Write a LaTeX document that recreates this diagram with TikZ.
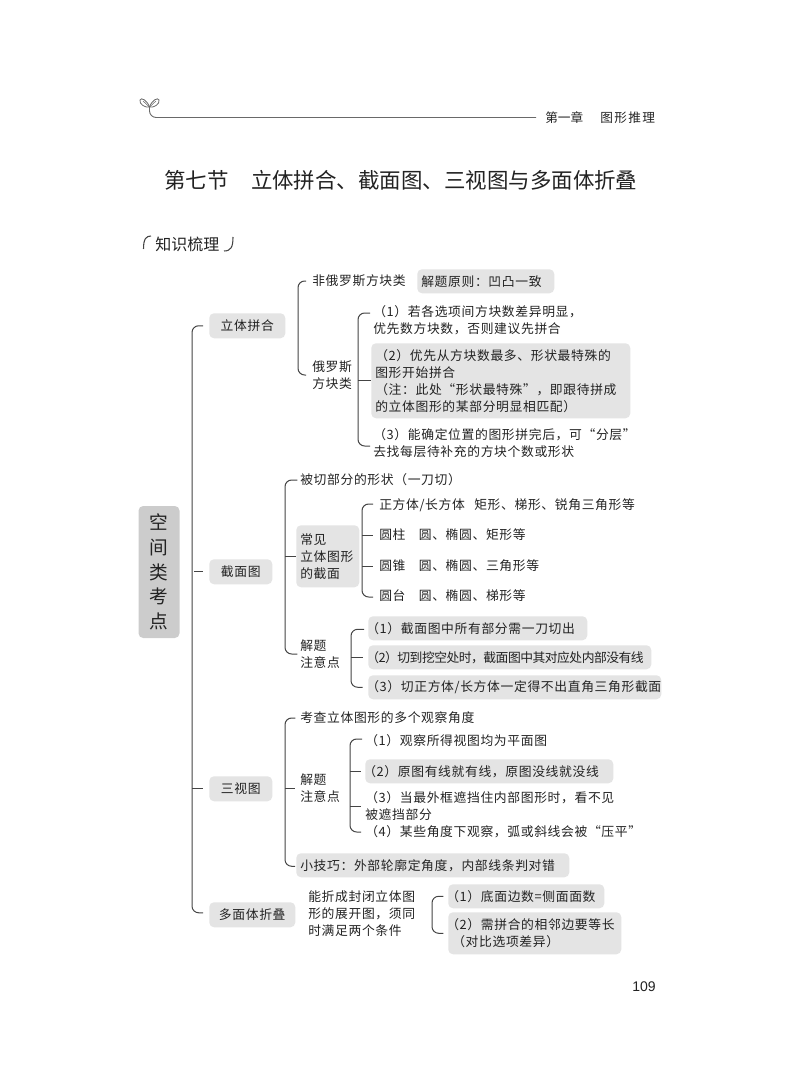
\documentclass[tikz,border=0pt]{standalone}
\usepackage{fontspec}
\setmainfont{Liberation Sans}
\newfontfamily\cjk{Noto Sans CJK SC}
\newfontfamily\hand[LetterSpace=5]{Noto Sans CJK SC}
\newfontfamily\handt[LetterSpace=-4]{Noto Sans CJK SC}
\newfontfamily\hdr[LetterSpace=0]{Noto Sans CJK SC}
\newfontfamily\hdrb[LetterSpace=11]{Noto Sans CJK SC}
\definecolor{boxgray}{HTML}{E4E4E4}
\definecolor{rootgray}{HTML}{CCCCCC}
\definecolor{ink}{HTML}{222222}
\definecolor{wire}{HTML}{444444}
\newcommand{\kk}{\hspace*{-4.5pt}}
\newcommand{\brk}[3]{\coordinate (brS) at (#2);\coordinate (brE) at (#3);\draw[conn] (brS) -- (brS -| #1) -- (brE -| #1) -- (brE);}
\tikzset{
  x=0.75pt,y=-0.75pt,
  txt/.style={anchor=west,inner sep=0pt,align=left,text=ink,font=\hand\fontsize{9.6}{12.75}\selectfont},
  gbox/.style 2 args={txt,anchor=north west,fill=boxgray,rounded corners=3.5pt,inner xsep=3pt,inner ysep=0pt,
     text width={#1*0.75pt-6pt},minimum height={#2*0.75pt}},
  catbox/.style={gbox={#1}{25},font=\hand\fontsize{9.6}{12.75}\selectfont,align=center},
  conn/.style={draw=wire,line width=0.75pt,rounded corners=5pt},
  tick/.style={draw=wire,line width=0.75pt},
}
\begin{document}
\begin{tikzpicture}
\useasboundingbox (0,0) rectangle (800,1084);
% header
\draw[draw=wire!80,line width=0.7pt,rounded corners=5pt] (149.5,106) -- (149.5,117.5) -- (536,117.5);
\draw[draw=wire!80,line width=0.6pt] (149.5,107) .. controls (147,100) and (141,97) .. (140,100) .. controls (139,104) and (145,108) .. (149.5,107) -- cycle;
\draw[draw=wire!80,line width=0.6pt] (149.5,107) .. controls (152,100) and (158,97) .. (159,100) .. controls (160,104) and (154,108) .. (149.5,107) -- cycle;
\draw[draw=wire!80,line width=0.4pt] (149.5,107) -- (143,101) (149.5,107) -- (156,101);
\node[anchor=west,inner sep=0pt,text=ink,font=\hdr\fontsize{9.5}{12}\selectfont] (chap) at (545,118) {第一章};
\node[anchor=west,inner sep=0pt,text=ink,font=\hdrb\fontsize{9.5}{12}\selectfont] (chapb) at (600,118) {图形推理};
\node[anchor=west,inner sep=0pt,text=ink,font=\cjk\fontsize{16.1}{20}\selectfont] (title) at (164,180) {第七节\hspace{16.8pt}立体拼合、截面图、三视图与多面体折叠};
\node[anchor=west,inner sep=0pt,text=ink,font=\cjk\fontsize{12}{16}\selectfont] (zs) at (155,244) {知识梳理};
\draw[draw=wire,line width=0.8pt] (151,236) .. controls (146,236) and (143.5,239) .. (143.5,249);
\draw[draw=wire,line width=0.8pt] (233,237) .. controls (233,247) and (231,251) .. (224,251);
% root
\node[gbox={41}{132},anchor=center,fill=rootgray,align=center,font=\hand\fontsize{14}{18.5}\selectfont] (root) at (159,572) {空\\间\\类\\考\\点};
% categories
\node[catbox=76] (lt) at (209,313) {立体拼合};
\node[catbox=63] (jm) at (209,559) {截面图};
\node[catbox=63] (sv) at (209,776) {三视图};
\node[catbox=86] (dm) at (209,902) {多面体折叠};
\coordinate (tr0) at (192,0);
\brk{tr0}{[xshift=-4.5pt]lt.west}{[shift={(-6,-2)}]dm.west}
\draw[tick] (tr0 |- jm.west) ++(2,0) -- ([xshift=-4.5pt]jm.west);
\draw[tick] (tr0 |- sv.west) -- ([xshift=-4.5pt]sv.west);
% lt branch
\node[txt] (a1) at (312,281) {非俄罗斯方块类};
\node[gbox={137}{24}] (a1b) at (417,269) {解题原则：凹凸一致};
\node[txt] (a2) at (312,375) {俄罗斯\\方块类};
\coordinate (tr1) at (298,0);
\brk{tr1}{[xshift=-4.5pt]a1.west}{[xshift=-4.5pt]a2.west}
\node[txt] (b1) at (373,320) {（1）若各选项间方块数差异明显，\\优先数方块数，否则建议先拼合};
\node[gbox={259}{75}] (b2) at (371,343) {（2）优先从方块数最多、形状最特殊的\\图形开始拼合\\（注：此处“形状最特殊”，即跟待拼成\\的立体图形的某部分明显相匹配）};
\node[txt] (b3) at (373,443) {（3）能确定位置的图形拼完后，可“分层”\\去找每层待补充的方块个数或形状};
\coordinate (tr2) at (358,0);
\brk{tr2}{[shift={(-3,-7)}]b1.west}{[shift={(-3,3)}]b3.west}
\draw[tick] (tr2 |- b2.west) -- (b2.west);
% jm branch
\node[txt] (c1) at (300,480) {被切部分的形状（一刀切）};
\node[gbox={63}{62}] (c2) at (296,525) {常见\\立体图形\\的截面};
\node[txt] (c3) at (300,654) {解题\\注意点};
\coordinate (tr3) at (285,0);
\brk{tr3}{[xshift=-2pt]c1.west}{[xshift=-2pt]c3.west}
\draw[tick] (tr3 |- c2.west) -- (c2.west);
\node[txt] (d1) at (379,505) {正方体/长方体\hspace{7pt}矩形、梯形、锐角三角形等};
\node[txt] (d2) at (379,535) {圆柱\hspace{10pt}圆、椭圆、矩形等};
\node[txt] (d3) at (379,566) {圆锥\hspace{10pt}圆、椭圆、三角形等};
\node[txt] (d4) at (379,596) {圆台\hspace{10pt}圆、椭圆、梯形等};
\coordinate (tr4) at (362,0);
\brk{tr4}{[shift={(-6,-1)}]d1.west}{[shift={(-6,1)}]d4.west}
\draw[tick] (tr4 |- d2.west) -- ([xshift=-4.5pt]d2.west);
\draw[tick] (tr4 |- d3.west) -- ([xshift=-4.5pt]d3.west);
\node[gbox={219}{24}] (e1) at (368,616) {\kk（1）截面图中所有部分需一刀切出};
\node[gbox={283}{24},font=\handt\fontsize{9.6}{12.75}\selectfont] (e2) at (368,645) {\kk（2）切到挖空处时，截面图中其对应处内部没有线};
\node[gbox={293}{24}] (e3) at (368,675) {\kk（3）切正方体/长方体一定得不出直角三角形截面};
\coordinate (tr5) at (351,0);
\brk{tr5}{[shift={(-4,1)}]e1.west}{[xshift=-4pt]e3.west}
\draw[tick] (tr5 |- e2.west) -- ([xshift=-4pt]e2.west);
% sv branch
\node[txt] (f1) at (300,718) {考查立体图形的多个观察角度};
\node[txt] (f2) at (300,788) {解题\\注意点};
\node[gbox={273}{24}] (f3) at (296,853) {小技巧：外部轮廓定角度，内部线条判对错};
\coordinate (tr6) at (285,0);
\brk{tr6}{[xshift=-3.5pt]f1.west}{[shift={(-1,1)}]f3.west}
\draw[tick] (tr6 |- f2.west) -- ([xshift=-3.5pt]f2.west);
\node[txt] (g1) at (365,741) {（1）观察所得视图均为平面图};
\node[gbox={248}{24}] (g2) at (365,759) {\kk（2）原图有线就有线，原图没线就没线};
\node[txt] (g3) at (365,806) {（3）当最外框遮挡住内部图形时，看不见\\被遮挡部分};
\node[txt] (g4) at (365,832) {（4）某些角度下观察，弧或斜线会被“压平”};
\coordinate (tr7) at (350,0);
\brk{tr7}{[shift={(-3,-2)}]g1.west}{[xshift=-3pt]g4.west}
\draw[tick] (tr7 |- g2.west) -- ([xshift=-3pt]g2.west);
\draw[tick] (tr7 |- g3.west) -- ([xshift=-3pt]g3.west);
% dm branch
\node[txt] (h1) at (308,914) {能折成封闭立体图\\形的展开图，须同\\时满足两个条件};
\node[gbox={156}{24}] (i1) at (448,884) {\kk（1）底面边数=侧面面数};
\node[gbox={173}{42}] (i2) at (448,912) {\kk（2）需拼合的相邻边要等长\\（对比选项差异）};
\coordinate (tr8) at (432,0);
\brk{tr8}{[xshift=-3.5pt]i1.west}{[xshift=-3.5pt]i2.west}
\node[anchor=east,inner sep=0pt,text=ink,font=\fontsize{10.5}{12}\selectfont] (pg) at (656,987) {109};
\end{tikzpicture}
\end{document}
